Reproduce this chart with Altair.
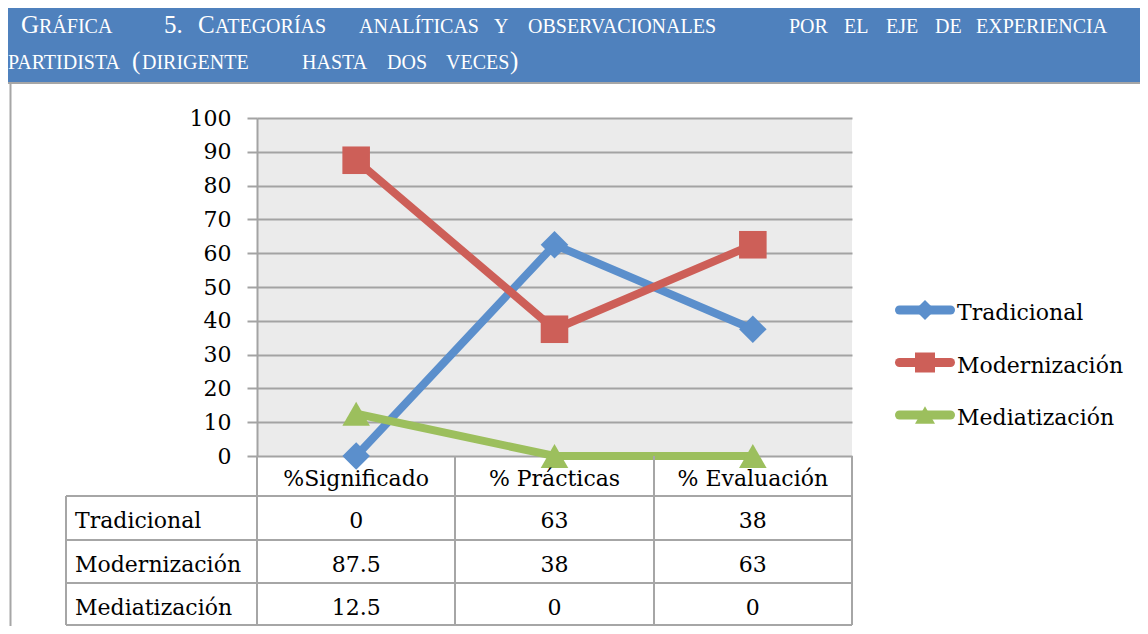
import altair as alt
import pandas as pd

# ---------------- data ----------------
categories = ["%Significado", "% Prácticas", "% Evaluación"]
series = ["Tradicional", "Modernización", "Mediatización"]
tradicional = [0, 62.5, 37.5]
modernizacion = [87.5, 37.5, 62.5]
mediatizacion = [12.5, 0, 0]
tabla_tradicional = ["0", "63", "38"]
tabla_modernizacion = ["87.5", "38", "63"]
tabla_mediatizacion = ["12.5", "0", "0"]
y_ticks = list(range(0, 101, 10))

title_line1 = [("G", True), ("RÁFICA", False), ("5.", True), ("C", True), ("ATEGORÍAS", False),
               ("ANALÍTICAS", False), ("Y", False), ("OBSERVACIONALES", False), ("POR", False),
               ("EL", False), ("EJE", False), ("DE", False), ("EXPERIENCIA", False)]
title_line2 = [("PARTIDISTA", False), ("(", True), ("DIRIGENTE", False), ("HASTA", False),
               ("DOS", False), ("VECES", False), (")", True)]

# ---------------- styles / layout ----------------
colors = ["#5b8fcc", "#cd5f58", "#9cbf5d"]
shapes = ["diamond", "square", "triangle-up"]
FONT = "DejaVu Serif"
TFONT = "Liberation Serif"
GRID = "#a3a3a3"
BORDER = "#a6a6a6"
W, H = 595, 338
# word start positions (page px) for the justified title
line1_x = [21, 39, 164, 198, 215, 359, 494, 528, 789, 844, 886, 935, 976]
line2_x = [8, 132, 142, 302, 387, 446, 510]

rows = []
for s, vals, labs in zip(series, [tradicional, modernizacion, mediatizacion],
                         [tabla_tradicional, tabla_modernizacion, tabla_mediatizacion]):
    for i, (c, v, l) in enumerate(zip(categories, vals, labs)):
        rows.append(dict(series=s, category=c, value=v, label=l, idx=i))
df = pd.DataFrame(rows)
series_df = pd.DataFrame({"series": series})
cat_df = pd.DataFrame({"category": categories})
one = pd.DataFrame({"a": [0]})

xscale = alt.Scale(domain=categories, type="point", padding=0.5)
yscale = alt.Scale(domain=[0, 100], nice=False, zero=True)
color_enc = alt.Color("series:N", scale=alt.Scale(domain=series, range=colors), legend=None)
shape_enc = alt.Shape("series:N", scale=alt.Scale(domain=series, range=shapes), legend=None)

layers = []

# banner
layers.append(alt.Chart(one).mark_rect(color="#4f81bd").encode(
    x=alt.value(-250), x2=alt.value(891), y=alt.value(-110), y2=alt.value(-36)))


def seg(x1, x2, y1, y2, color=BORDER, w=2):
    return alt.Chart(one).mark_rule(color=color, strokeWidth=w).encode(
        x=alt.value(x1), x2=alt.value(x2), y=alt.value(y1), y2=alt.value(y2))


layers.append(seg(-250, 891, -35, -35))
layers.append(seg(-246.5, -246.5, -35, 510))

# title text
for (txt, big), px in zip(title_line1, line1_x):
    layers.append(alt.Chart(one).mark_text(
        text=txt, font=TFONT, fontSize=25 if big else 20, color="white",
        align="left", baseline="alphabetic").encode(x=alt.value(px - 257), y=alt.value(-85)))
for (txt, big), px in zip(title_line2, line2_x):
    layers.append(alt.Chart(one).mark_text(
        text=txt, font=TFONT, fontSize=25 if big else 20, color="white",
        align="left", baseline="alphabetic").encode(x=alt.value(px - 257), y=alt.value(-49)))

# lines
layers.append(alt.Chart(df).mark_line(strokeWidth=8).encode(
    x=alt.X("category:N", scale=xscale, axis=None),
    y=alt.Y("value:Q", scale=yscale, axis=alt.Axis(
        values=y_ticks, labelFont=FONT, labelFontSize=22, labelColor="black",
        labelPadding=16, tickSize=10, tickColor=GRID, tickWidth=2,
        domainColor=GRID, domainWidth=2, grid=True, gridColor=GRID, gridWidth=2,
        title=None, labelFlush=False, labelOverlap=False)),
    color=color_enc,
    order=alt.Order("idx:Q")))

# markers
layers.append(alt.Chart(df).mark_point(filled=True, opacity=1, size=760).encode(
    x=alt.X("category:N", scale=xscale, axis=None),
    y=alt.Y("value:Q", scale=yscale, axis=None),
    color=color_enc, shape=shape_enc))

# table grid
for yy in [378, 422, 465, 507]:
    layers.append(seg(-191, 595, yy, yy))
for xx in [0, 198, 397, 595]:
    layers.append(seg(xx, xx, 338, 507))
layers.append(seg(-191, -191, 378, 507))

# table header labels
layers.append(alt.Chart(cat_df).mark_text(
    font=FONT, fontSize=22, color="black", baseline="alphabetic").encode(
    x=alt.X("category:N", scale=xscale, axis=None),
    y=alt.value(368), text="category:N"))

table_y = alt.Y("series:N", scale=alt.Scale(domain=series, type="point", padding=0,
                                            range=[410, 497]), axis=None)
# table row labels
layers.append(alt.Chart(series_df).mark_text(
    font=FONT, fontSize=22, color="black", align="left", baseline="alphabetic").encode(
    x=alt.value(-182), y=table_y, text="series:N"))
# table values
layers.append(alt.Chart(df).mark_text(
    font=FONT, fontSize=22, color="black", baseline="alphabetic").encode(
    x=alt.X("category:N", scale=xscale, axis=None),
    y=table_y, text="label:N"))

# legend
leg_y = alt.Y("series:N", scale=alt.Scale(domain=series, type="point", padding=0,
                                          range=[192, 297]), axis=None)
layers.append(alt.Chart(series_df).mark_rule(strokeWidth=9, strokeCap="round").encode(
    x=alt.value(642.5), x2=alt.value(693.5), y=leg_y, color=color_enc))
layers.append(alt.Chart(series_df).mark_point(filled=True, opacity=1, size=400).encode(
    x=alt.value(668), y=leg_y, color=color_enc, shape=shape_enc))
layers.append(alt.Chart(series_df).mark_text(
    font=FONT, fontSize=22, color="black", align="left", baseline="alphabetic", dy=10).encode(
    x=alt.value(700), y=leg_y, text="series:N"))

chart = alt.layer(*layers).resolve_scale(y="independent").properties(
    width=W, height=H,
    padding={"left": 249, "top": 110, "right": 288, "bottom": 170},
    autosize=alt.AutoSizeParams(type="none"),
).configure_view(fill="#ebebeb", stroke=None)

chart.save("out.html", embed_options={"renderer": "svg", "actions": False})
